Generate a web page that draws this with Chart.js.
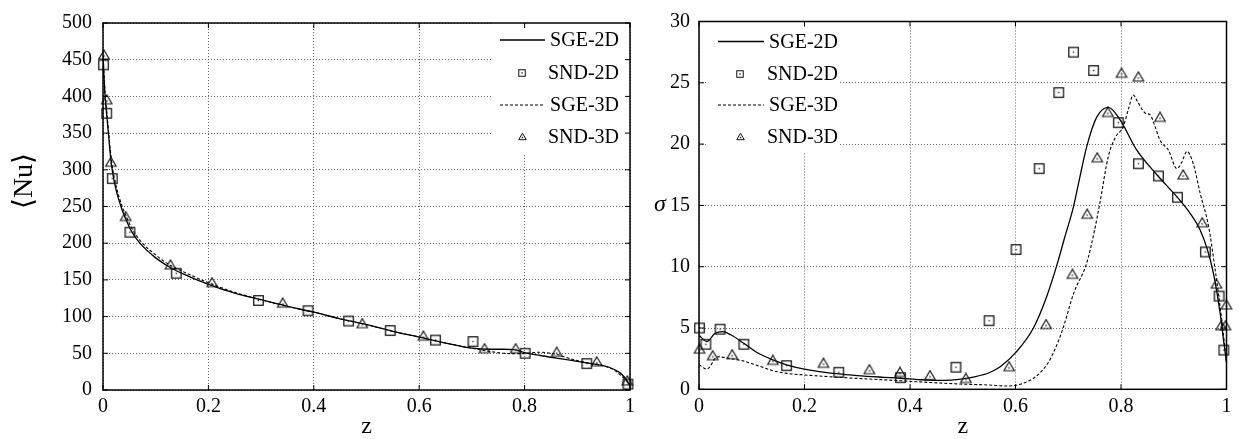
<!DOCTYPE html>
<html><head><meta charset="utf-8">
<script src="https://cdn.jsdelivr.net/npm/chart.js@4/dist/chart.umd.min.js"></script>
<style>
html,body{margin:0;padding:0;background:#fff;overflow:hidden}
#wrap{position:relative;width:1246px;height:439px;background:#fff}
canvas{position:absolute;top:0}
#c1{left:0}
#c2{left:640px}
</style></head><body>
<div id="wrap"><canvas id="c1" width="640" height="439"></canvas><canvas id="c2" width="606" height="439"></canvas></div>
<script>
// ---------- shared ----------
const seriesNames = ['SGE-2D', 'SND-2D', 'SGE-3D', 'SND-3D'];
const zTicks = [0, 0.2, 0.4, 0.6, 0.8, 1];

// ---------- left panel: <Nu> vs z ----------
const nuTicks = [0, 50, 100, 150, 200, 250, 300, 350, 400, 450, 500];
const nuZ_SGE2D = [0,0.002,0.004,0.007,0.01,0.014,0.018,0.025,0.035,0.045,0.055,0.07,0.1,0.125,0.15,0.2,0.25,0.3,0.35,0.4,0.45,0.5,0.55,0.6,0.65,0.7,0.73,0.76,0.78,0.8,0.83,0.86,0.9,0.93,0.96,0.98,0.99,1];
const nu_SGE2D  = [452,425,400,375,352,320,297,272,248,230,215,200,180,168,159,144,132,123,114,106,97,89,80,72,64,57,55.5,55.5,55,51,47,43.5,39,35.5,31,24,17,6];
const nuZ_SGE3D = [0,0.002,0.004,0.007,0.01,0.014,0.018,0.025,0.035,0.045,0.055,0.07,0.1,0.125,0.15,0.2,0.25,0.3,0.35,0.4,0.45,0.5,0.55,0.6,0.65,0.7,0.73,0.76,0.79,0.81,0.83,0.86,0.89,0.92,0.95,0.97,0.99,1];
const nu_SGE3D  = [456,430,405,380,357,326,303,278,253,235,220,204,184,171,162,146,133,123,114,106,97,89,80,72,64,57,53,50,49.5,50.5,51.5,48.5,42,37,33,27,15,8];
const nuZ_SND2D = [0.001,0.007,0.0176,0.051,0.139,0.295,0.389,0.466,0.545,0.631,0.702,0.801,0.918,0.996];
const nu_SND2D  = [443,377,288,215,159,122,108,94,81,68,66,50,36,8];
const nuZ_SND3D = [0.002,0.007,0.015,0.043,0.128,0.207,0.341,0.492,0.608,0.724,0.783,0.861,0.937,0.995];
const nu_SND3D  = [455,394,309,235,169,145,117,89,72,55,55,50,37,11];

// ---------- right panel: sigma vs z ----------
const sigTicks = [0, 5, 10, 15, 20, 25, 30];
const sgZ_SGE2D = [0,0.015,0.03,0.045,0.06,0.085,0.11,0.14,0.166,0.2,0.265,0.3,0.35,0.382,0.42,0.457,0.5,0.52,0.55,0.571,0.602,0.634,0.659,0.681,0.692,0.71,0.72,0.735,0.754,0.776,0.798,0.83,0.868,0.906,0.931,0.95,0.963,0.975,0.988,0.995,1];
const sg_SGE2D  = [4.4,3.9,4.55,4.7,4.45,3.75,3.0,2.4,2.0,1.65,1.25,1.12,0.98,0.9,0.78,0.72,0.85,1.0,1.35,1.84,3.07,5.0,7.55,10.5,12.2,14.9,16.9,19.8,22.2,23.0,22.0,19.5,17.5,15.7,14.35,13.0,11.5,9.5,6.2,3.8,2.2];
const sgZ_SGE3D = [0,0.015,0.035,0.06,0.085,0.11,0.14,0.166,0.2,0.265,0.33,0.382,0.44,0.495,0.55,0.583,0.6,0.615,0.634,0.65,0.665,0.68,0.691,0.71,0.735,0.749,0.76,0.776,0.79,0.804,0.815,0.823,0.831,0.839,0.847,0.855,0.864,0.874,0.89,0.906,0.915,0.925,0.937,0.95,0.966,0.978,0.991,1];
const sg_SGE3D  = [2.0,1.65,2.65,2.5,2.3,1.95,1.52,1.3,1.17,0.98,0.82,0.7,0.55,0.43,0.35,0.27,0.32,0.5,0.9,1.5,2.39,3.8,5.1,7.8,10.3,12.8,15.2,19.0,20.6,21.4,23.0,24.0,23.5,22.9,22.5,22.4,21.5,20.3,19.5,18.0,18.5,19.4,18.4,16.0,13.3,9.9,5.65,2.2];
const sgZ_SND2D = [0.001,0.013,0.040,0.085,0.166,0.265,0.382,0.487,0.550,0.601,0.645,0.682,0.710,0.748,0.795,0.833,0.871,0.907,0.960,0.986,0.995];
const sg_SND2D  = [5.0,3.67,4.9,3.67,1.93,1.39,0.95,1.8,5.6,11.4,18.0,24.2,27.5,26.0,21.75,18.4,17.4,15.66,11.2,7.6,3.2];
const sgZ_SND3D = [0.001,0.026,0.063,0.140,0.236,0.323,0.381,0.438,0.506,0.588,0.658,0.708,0.736,0.755,0.775,0.801,0.833,0.874,0.918,0.954,0.981,0.990,0.998,1.0];
const sg_SND3D  = [3.2,2.66,2.74,2.28,2.04,1.52,1.3,1.03,0.8,1.76,5.2,9.3,14.2,18.8,22.5,25.7,25.4,22.1,17.4,13.5,8.5,5.1,5.1,6.8];

// ---------- helpers ----------
const FONT = "'Liberation Serif', 'DejaVu Serif', serif";
const pts = (xs, ys) => xs.map((x, i) => ({x, y: ys[i]}));

function markerSquare(side, lw) {
  const s = Math.ceil(side + lw + 2);
  const c = document.createElement('canvas'); c.width = s; c.height = s;
  const g = c.getContext('2d');
  g.strokeStyle = '#111'; g.lineWidth = lw;
  const o = (s - side) / 2;
  g.strokeRect(o, o, side, side);
  g.fillStyle = '#222';
  g.fillRect(s/2 - 0.7, s/2 - 0.7, 1.4, 1.4);
  return c;
}
function markerTri(w, lw) {
  const h = w * Math.sqrt(3) / 2;
  const s = Math.ceil(w + lw + 2);
  const c = document.createElement('canvas'); c.width = s; c.height = s;
  const g = c.getContext('2d');
  g.strokeStyle = '#111'; g.lineWidth = lw; g.lineJoin = 'miter';
  const cx = s / 2, cy = s / 2;
  const top = cy - h * 2 / 3, bot = cy + h / 3;
  g.beginPath(); g.moveTo(cx, top); g.lineTo(cx + w/2, bot); g.lineTo(cx - w/2, bot); g.closePath(); g.stroke();
  g.fillStyle = '#222';
  g.fillRect(cx - 0.7, cy - 0.7, 1.4, 1.4);
  return c;
}
const SQ = markerSquare(9.5, 1.25), TR = markerTri(10.5, 1.15);
const SQs = markerSquare(6.5, 1.0), TRs = markerTri(7.5, 1.0);

function lineDs(label, xs, ys, dash) {
  return {label, data: pts(xs, ys), borderColor: '#000', borderWidth: dash ? 1.1 : 1.3,
    borderDash: dash || [], pointRadius: 0, fill: false, cubicInterpolationMode: 'monotone', order: 2};
}
function markDs(label, xs, ys, img, small) {
  return {label, data: pts(xs, ys), showLine: false, pointStyle: img, pointRadius: 6,
    borderColor: '#222', backgroundColor: 'transparent', clip: false, order: 1, legendImg: small};
}

const framePlugin = {
  id: 'frame',
  afterDatasetsDraw(chart, args, o) {
    const {ctx, chartArea: a} = chart;
    ctx.save();
    // legend
    const L = o.legend;
    ctx.fillStyle = '#fff';
    ctx.fillRect(L.box[0], L.box[1], L.box[2] - L.box[0], L.box[3] - L.box[1]);
    chart.data.datasets.forEach((ds, i) => {
      const y = L.rows[i];
      if (ds.showLine === false) {
        const im = ds.legendImg;
        ctx.drawImage(im, Math.round(L.mark - im.width / 2), Math.round(y - im.height / 2));
      } else {
        ctx.strokeStyle = '#000'; ctx.lineWidth = ds.borderWidth;
        ctx.setLineDash(ds.borderDash || []);
        ctx.beginPath(); ctx.moveTo(L.line[0], y); ctx.lineTo(L.line[1], y); ctx.stroke();
        ctx.setLineDash([]);
      }
      ctx.fillStyle = '#000';
      ctx.font = '20px ' + FONT;
      ctx.textAlign = 'right'; ctx.textBaseline = 'middle';
      ctx.fillText(ds.label, L.text, y + 1);
    });
    // frame
    ctx.strokeStyle = '#000'; ctx.lineWidth = 1.5; ctx.setLineDash([]);
    ctx.strokeRect(a.left, a.top, a.right - a.left, a.bottom - a.top);
    // inward ticks
    ctx.lineWidth = 1;
    const xs = chart.scales.x, ys = chart.scales.y;
    ctx.beginPath();
    xs.ticks.forEach(t => {
      const p = xs.getPixelForValue(t.value);
      ctx.moveTo(p, a.bottom); ctx.lineTo(p, a.bottom - 5);
      ctx.moveTo(p, a.top); ctx.lineTo(p, a.top + 5);
    });
    ys.ticks.forEach(t => {
      const p = ys.getPixelForValue(t.value);
      ctx.moveTo(a.left, p); ctx.lineTo(a.left + 5, p);
      ctx.moveTo(a.right, p); ctx.lineTo(a.right - 5, p);
    });
    ctx.stroke();
    // custom y title
    if (o.ytitle) {
      ctx.save();
      ctx.translate(o.ytitle.x, o.ytitle.y);
      ctx.rotate(o.ytitle.rot);
      ctx.font = o.ytitle.font;
      ctx.textAlign = 'center'; ctx.textBaseline = 'middle';
      ctx.fillStyle = '#000';
      ctx.fillText(o.ytitle.text, 0, 0);
      ctx.restore();
    }
    ctx.restore();
  }
};

function makeChart(id, datasets, yTicks, cfg) {
  return new Chart(document.getElementById(id), {
    type: 'line',
    data: {datasets},
    plugins: [framePlugin],
    options: {
      responsive: false, animation: false, events: [],
      layout: {padding: cfg.pad},
      plugins: {legend: {display: false}, tooltip: {enabled: false}, frame: cfg.frame},
      scales: {
        x: {
          type: 'linear', min: 0, max: 1,
          afterBuildTicks: s => { s.ticks = zTicks.map(v => ({value: v})); },
          afterFit: s => { s.height = cfg.xh; },
          grid: {color: '#666', lineWidth: 1, drawTicks: false},
          border: {display: false, dash: [1, 2]},
          ticks: {padding: 5, color: '#000', font: {family: FONT, size: 20},
                  callback: v => String(Number(Number(v).toFixed(1)))},
          title: {display: true, text: 'z', color: '#000', padding: {top: 0, bottom: 0},
                  font: {family: FONT, size: 24, lineHeight: 1}}
        },
        y: {
          type: 'linear', min: yTicks[0], max: yTicks[yTicks.length - 1],
          afterBuildTicks: s => { s.ticks = yTicks.map(v => ({value: v})); },
          afterFit: s => { s.width = cfg.yw; },
          grid: {color: '#666', lineWidth: 1, drawTicks: false},
          border: {display: false, dash: [1, 2]},
          ticks: {padding: cfg.ypad, color: '#000', font: {family: FONT, size: 20}},
          title: {display: false}
        }
      }
    }
  });
}

// left
makeChart('c1', [
  lineDs(seriesNames[0], nuZ_SGE2D, nu_SGE2D, null),
  markDs(seriesNames[1], nuZ_SND2D, nu_SND2D, SQ, SQs),
  lineDs(seriesNames[2], nuZ_SGE3D, nu_SGE3D, [3, 2]),
  markDs(seriesNames[3], nuZ_SND3D, nu_SND3D, TR, TRs)
], nuTicks, {
  pad: {left: 0, top: 20, right: 9, bottom: 0},
  xh: 49, yw: 103, ypad: 11,
  frame: {
    legend: {box: [492, 21, 630, 153], rows: [40, 72.5, 105, 137], line: [500, 545], mark: 522, text: 619},
    ytitle: {text: '\u27E8Nu\u27E9', x: 25, y: 181, rot: -Math.PI / 2, font: '28px ' + FONT}
  }
});

// right
makeChart('c2', [
  lineDs(seriesNames[0], sgZ_SGE2D, sg_SGE2D, null),
  markDs(seriesNames[1], sgZ_SND2D, sg_SND2D, SQ, SQs),
  lineDs(seriesNames[2], sgZ_SGE3D, sg_SGE3D, [3, 2]),
  markDs(seriesNames[3], sgZ_SND3D, sg_SND3D, TR, TRs)
], sigTicks, {
  pad: {left: 0, top: 21.5, right: 19.5, bottom: 0},
  xh: 49.7, yw: 59, ypad: 9,
  frame: {
    legend: {box: [67, 22, 199, 152], rows: [41.5, 73.5, 105, 137], line: [78, 124], mark: 100, text: 198},
    ytitle: {text: '\u03C3', x: 20, y: 205, rot: 0, font: 'italic 24px ' + FONT}
  }
});
</script>
</body></html>
